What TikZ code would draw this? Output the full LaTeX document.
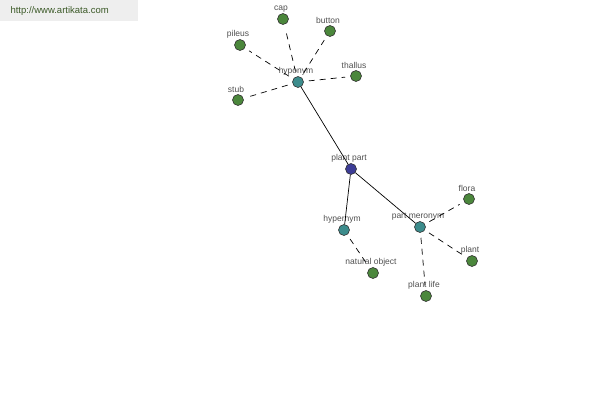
\documentclass[tikz,border=0pt]{standalone}
\usepackage{fontspec}
\setmainfont{Liberation Sans}
\usetikzlibrary{positioning}
\definecolor{root}{RGB}{60,60,150}
\definecolor{rel}{RGB}{60,140,140}
\definecolor{leaf}{RGB}{75,135,60}
\definecolor{lbl}{RGB}{80,80,80}
\definecolor{banner}{RGB}{238,238,238}
\definecolor{bannertext}{RGB}{60,90,40}
\tikzset{
  dot/.style={circle, draw=black!80, line width=0.6pt, minimum size=11pt, inner sep=0pt,
              label={[lbl, font=\fontsize{8.5}{9}\selectfont, inner sep=1pt, xshift=-2pt]above:#1}},
  rootdot/.style={dot=#1, fill=root},
  reldot/.style={dot=#1, fill=rel},
  leafdot/.style={dot=#1, fill=leaf},
  main/.style={line width=0.7pt},
  side/.style={line width=0.7pt, dash pattern=on 6pt off 5pt, shorten >=5pt, shorten <=5pt},
}

\begin{document}
\begin{tikzpicture}[x=1pt, y=-1pt]
  \useasboundingbox (0,0) rectangle (600,400);
  \fill[banner] (0,0) rectangle (138,21);
  \node[bannertext, font=\fontsize{9.5}{10}\selectfont, anchor=west] (site) at (7,11) {http://www.artikata.com};

  \node[rootdot=plant part] (pp) at (351,169) {};
  \node[reldot=hyponym] (hypo) at (298,82) {};
  \node[reldot=hypernym] (hyper) at (344,230) {};
  \node[reldot=part meronym] (mero) at (420,227) {};

  \node[leafdot=cap] (cap) at (283,19) {};
  \node[leafdot=button] (button) at (330,31) {};
  \node[leafdot=pileus] (pileus) at (240,45) {};
  \node[leafdot=thallus] (thallus) at (356,76) {};
  \node[leafdot=stub] (stub) at (238,100) {};
  \node[leafdot=natural object] (natobj) at (373,273) {};
  \node[leafdot=flora] (flora) at (469,199) {};
  \node[leafdot=plant] (plant) at (472,261) {};
  \node[leafdot=plant life] (plife) at (426,296) {};

  \foreach \a in {hypo, hyper, mero}
    \draw[main] (pp) -- (\a);
  \foreach \a/\b in {hypo/cap, hypo/button, hypo/pileus, hypo/thallus, hypo/stub,
                     hyper/natobj, mero/flora, mero/plant, mero/plife}
    \draw[side] (\a) -- (\b);
\end{tikzpicture}
\end{document}
